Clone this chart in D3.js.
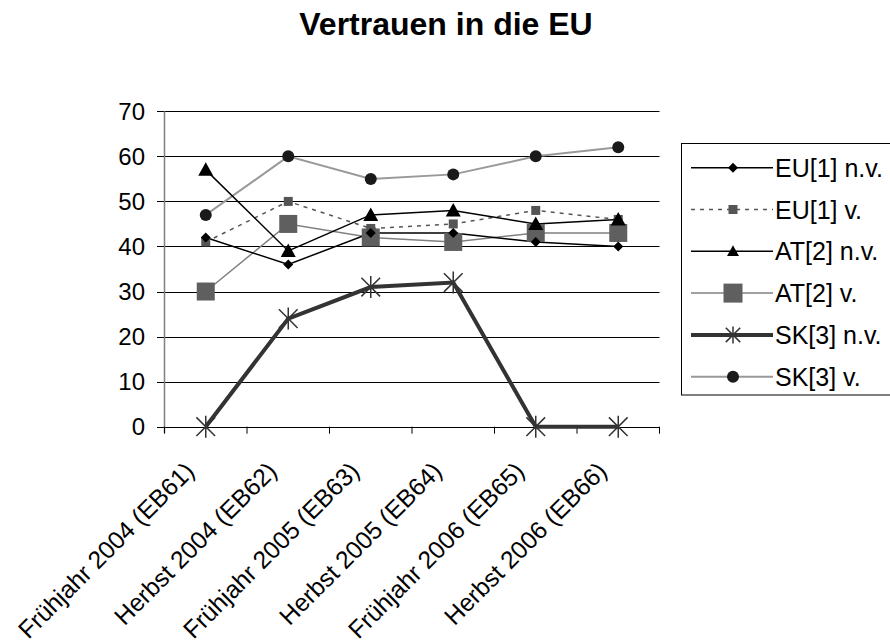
<!DOCTYPE html>
<html><head><meta charset="utf-8">
<script src="https://cdn.jsdelivr.net/npm/d3@7"></script>
<style>body{margin:0;background:#fff}svg{display:block;font-family:"Liberation Sans",Arial,sans-serif}</style>
</head><body><svg id="c" width="890" height="644"></svg>
<script>
const categories = ["Frühjahr 2004 (EB61)","Herbst 2004 (EB62)","Frühjahr 2005 (EB63)","Herbst 2005 (EB64)","Frühjahr 2006 (EB65)","Herbst 2006 (EB66)"];
const seriesNames = ["EU[1] n.v.","EU[1] v.","AT[2] n.v.","AT[2] v.","SK[3] n.v.","SK[3] v."];
const euNV = [42,36,43,43,41,40];
const euV  = [41,50,44,45,48,46];
const atNV = [57,39,47,48,45,46];
const atV  = [30,45,42,41,43,43];
const skNV = [0,24,31,32,0,0];
const skV  = [47,60,55,56,60,62];
const yTicks = [0,10,20,30,40,50,60,70];
const title = "Vertrauen in die EU";

const styles = [
  {line:"#000", w:1.5, dash:null, marker:"diamond", fill:"#000", size:10},
  {line:"#555", w:1.5, dash:"4,5", marker:"square", fill:"#555", size:9},
  {line:"#000", w:1.5, dash:null, marker:"triangle", fill:"#000", size:15},
  {line:"#808080", w:1.5, dash:null, marker:"square", fill:"#5f5f5f", size:18},
  {line:"#333", w:4, dash:null, marker:"star", fill:"#333", size:22},
  {line:"#999", w:2, dash:null, marker:"circle", fill:"#1a1a1a", size:12}
];
const data = [euNV, euV, atNV, atV, skNV, skV];

const svg = d3.select("#c");
const L=164.5, R=659.5, T=111.3, B=426.7;
const x = d3.scaleBand().domain(categories).range([L,R]);
const y = d3.scaleLinear().domain([0,70]).range([B,T]);

svg.append("text").attr("x",446).attr("y",35).attr("text-anchor","middle")
  .attr("font-size",32).attr("font-weight","bold").text(title);

// gridlines
svg.append("g").selectAll("line").data(yTicks).join("line")
  .attr("x1",157).attr("x2",R).attr("y1",d=>Math.round(y(d))+0.5).attr("y2",d=>Math.round(y(d))+0.5)
  .attr("stroke","#000").attr("stroke-width",1);
// y labels
svg.append("g").selectAll("text").data(yTicks).join("text")
  .attr("x",145).attr("y",d=>y(d)).attr("dy","0.36em").attr("text-anchor","end")
  .attr("font-size",24).text(d=>d);
// y axis
svg.append("line").attr("x1",L).attr("x2",L).attr("y1",T).attr("y2",B+6).attr("stroke","#808080").attr("stroke-width",1.5);
// x axis ticks
const bounds = categories.map(c=>x(c)).concat([R]);
svg.append("g").selectAll("line").data(bounds).join("line")
  .attr("x1",d=>d).attr("x2",d=>d).attr("y1",B).attr("y2",B+7).attr("stroke","#000").attr("stroke-width",1);
// x labels
svg.append("g").selectAll("text").data(categories).join("text")
  .attr("transform",d=>`translate(${x(d)+x.bandwidth()/2-10},${B+46}) rotate(-45)`)
  .attr("text-anchor","end").attr("font-size",24.6).text(d=>d);

function markerPath(type,size){
  const s=size/2;
  if(type==="diamond") return `M0,${-s}L${s},0L0,${s}L${-s},0Z`;
  if(type==="square") return `M${-s},${-s}H${s}V${s}H${-s}Z`;
  if(type==="triangle") return `M0,${-s}L${s},${s*0.8}L${-s},${s*0.8}Z`;
  if(type==="star"){const d=s*0.85; return `M${-d},${-d}L${d},${d}M${-d},${d}L${d},${-d}M0,${-s}V${s}`;}
  return null;
}
function drawMarker(g,type,size,fill,cx,cy){
  if(type==="circle") g.append("circle").attr("cx",cx).attr("cy",cy).attr("r",size/2).attr("fill",fill);
  else if(type==="star") g.append("path").attr("d",markerPath(type,size)).attr("transform",`translate(${cx},${cy})`).attr("stroke",fill).attr("stroke-width",1.5).attr("fill","none");
  else g.append("path").attr("d",markerPath(type,size)).attr("transform",`translate(${cx},${cy})`).attr("fill",fill);
}

const line = d3.line().x((d,i)=>x(categories[i])+x.bandwidth()/2).y(d=>y(d));
const order=[5,3,1,0,2,4];
order.forEach(k=>{
  const st=styles[k], g=svg.append("g");
  g.append("path").attr("d",line(data[k])).attr("fill","none").attr("stroke",st.line)
    .attr("stroke-width",st.w).attr("stroke-dasharray",st.dash);
});
order.forEach(k=>{
  const st=styles[k], g=svg.append("g");
  data[k].forEach((v,i)=>drawMarker(g,st.marker,st.size,st.fill,x(categories[i])+x.bandwidth()/2,y(v)));
});

// legend
const lg=svg.append("g");
lg.append("rect").attr("x",681.5).attr("y",143.5).attr("width",220).attr("height",251.5).attr("fill","#fff").attr("stroke","#000").attr("stroke-width",1);
seriesNames.forEach((n,k)=>{
  const st=styles[k], cy=167.7+k*41.8;
  lg.append("line").attr("x1",691).attr("x2",773).attr("y1",cy).attr("y2",cy).attr("stroke",st.line)
    .attr("stroke-width",st.w).attr("stroke-dasharray",st.dash);
  const sz = st.marker==="square"&&k===3?19: st.marker==="triangle"?12: st.marker==="star"?17: st.size;
  drawMarker(lg,st.marker,sz,st.fill,733,cy);
  lg.append("text").attr("x",775).attr("y",cy).attr("dy","0.36em").attr("font-size",25).text(n);
});
</script></body></html>
